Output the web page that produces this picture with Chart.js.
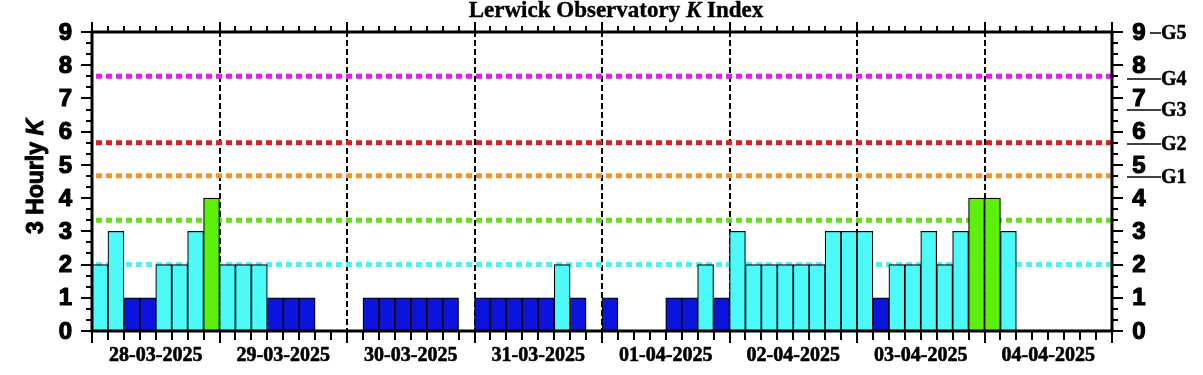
<!DOCTYPE html>
<html><head><meta charset="utf-8">
<script src="https://cdn.jsdelivr.net/npm/chart.js@4/dist/chart.umd.min.js"></script>
<style>html,body{margin:0;padding:0;background:#fff;overflow:hidden}#wrap{width:1203px;height:375px;position:relative}</style>
</head><body><div id="wrap"><canvas id="c" width="1203" height="375"></canvas></div>
<script>
// ---- data ----
const dayLabels = ['28-03-2025','29-03-2025','30-03-2025','31-03-2025','01-04-2025','02-04-2025','03-04-2025','04-04-2025'];
const kValues = [
  2,3,1,1,2,2,3,4,
  2,2,2,1,1,1,0,0,
  0,1,1,1,1,1,1,0,
  1,1,1,1,1,2,1,0,
  1,0,0,0,1,1,2,1,
  3,2,2,2,2,2,3,3,
  3,1,2,2,3,2,3,4,
  4,3,null,null,null,null,null,null
];
const slotsPerDay = 8;
const yTickValues = [0,1,2,3,4,5,6,7,8,9];
const thresholdLevels = [2, 3.33, 4.67, 5.67, 7.67];
const gLevels = [4.67, 5.67, 6.67, 7.67, 9];
const gLabels = ['G1','G2','G3','G4','G5'];
const titleParts = ['Lerwick Observatory ', 'K', ' Index'];
const yTitleParts = ['3 Hourly ', 'K'];

// ---- styles ----
const thresholdColors = ['#55EEEE', '#66DD22', '#F7941D', '#D42222', '#E020E8'];
function barColor(v){
  if (v == null) return 'rgba(0,0,0,0)';
  if (v <= 1) return '#0A14DC';
  if (v <= 3) return '#4DFAFA';
  if (v <= 4) return '#5CF00A';
  if (v <= 5) return '#F7941D';
  return '#D42222';
}

const nSlots = dayLabels.length * slotsPerDay;

const datasets = [{
  type: 'bar',
  data: kValues.map((v,i)=>({x:i+0.5, y:v})),
  backgroundColor: ctx => barColor(ctx.raw ? ctx.raw.y : null),
  borderColor: '#000',
  borderWidth: 1.2,
  barPercentage: 1,
  categoryPercentage: 1,
  order: 0
}];
thresholdLevels.forEach((lv, j) => {
  datasets.push({
    type: 'line',
    data: [{x:0, y:lv}, {x:nSlots, y:lv}],
    borderColor: thresholdColors[j],
    borderWidth: 5,
    borderDash: [6,4],
    borderDashOffset: 6,
    borderCapStyle: 'butt',
    pointRadius: 0,
    fill: false,
    order: 1
  });
});

function heavyText(ctx, t, x, y, sw){
  ctx.lineWidth = sw;
  ctx.lineJoin = 'round';
  ctx.strokeText(t, x, y);
  ctx.fillText(t, x, y);
}

const decor = {
  id: 'decor',
  beforeDatasetsDraw(chart){
    const {ctx, chartArea:a, scales:{x}} = chart;
    ctx.save();
    ctx.strokeStyle = '#000';
    ctx.lineWidth = 2;
    ctx.setLineDash([6,3]);
    for (let d = 1; d < dayLabels.length; d++){
      const px = Math.round(x.getPixelForValue(d*slotsPerDay));
      ctx.beginPath(); ctx.moveTo(px, a.top-10); ctx.lineTo(px, a.bottom+12); ctx.stroke();
    }
    ctx.restore();
  },
  afterDatasetsDraw(chart){
    const {ctx, chartArea:a, scales:{x,y}} = chart;
    ctx.save();
    ctx.strokeStyle = '#000';
    ctx.fillStyle = '#000';
    // frame
    ctx.lineWidth = 3;
    ctx.strokeRect(a.left, a.top, a.right-a.left, a.bottom-a.top);
    // x ticks
    ctx.lineWidth = 2;
    for (let i = 0; i <= nSlots; i++){
      const px = Math.round(x.getPixelForValue(i));
      const major = i % slotsPerDay === 0;
      ctx.beginPath(); ctx.moveTo(px, a.top); ctx.lineTo(px, a.top - (major?10:6)); ctx.stroke();
      ctx.beginPath(); ctx.moveTo(px, a.bottom); ctx.lineTo(px, a.bottom + (major?12:9)); ctx.stroke();
    }
    // y ticks
    for (let k = 0; k <= 27; k++){
      const py = Math.round(y.getPixelForValue(k/3));
      const major = k % 3 === 0;
      ctx.beginPath(); ctx.moveTo(a.left, py); ctx.lineTo(a.left - (major?11:6), py); ctx.stroke();
      ctx.beginPath(); ctx.moveTo(a.right, py); ctx.lineTo(a.right + (major?11:6), py); ctx.stroke();
    }
    // y labels
    ctx.font = 'bold 24px "Liberation Sans", Arial, sans-serif';
    ctx.textBaseline = 'middle';
    yTickValues.forEach(v => {
      const py = y.getPixelForValue(v) + 1;
      ctx.textAlign = 'right'; heavyText(ctx, String(v), 72, py, 1.2);
      ctx.textAlign = 'center'; heavyText(ctx, String(v), 1139, py, 1.2);
    });
    // G labels
    ctx.font = 'bold 20px "Liberation Serif", "Times New Roman", serif';
    ctx.textAlign = 'left';
    gLevels.forEach((lv, j) => {
      const py = Math.round(y.getPixelForValue(lv)) + (j===3?3:1);
      const x0 = lv === 9 ? 1150 : 1127;
      ctx.lineWidth = 1.5;
      ctx.beginPath(); ctx.moveTo(x0, py); ctx.lineTo(1161, py); ctx.stroke();
      heavyText(ctx, gLabels[j], 1161, py + 1, 0.5);
    });
    // day labels
    ctx.font = 'bold 20px "Liberation Serif", "Times New Roman", serif';
    ctx.textAlign = 'center';
    dayLabels.forEach((lab, d) => {
      heavyText(ctx, lab, x.getPixelForValue(d*slotsPerDay + slotsPerDay/2), 356, 0.6);
    });
    // title
    const fN = 'bold 23px "Liberation Serif", "Times New Roman", serif';
    const fI = 'italic bold 23px "Liberation Serif", "Times New Roman", serif';
    const fonts = [fN, fI, fN];
    let w = 0;
    titleParts.forEach((t,i)=>{ ctx.font = fonts[i]; w += ctx.measureText(t).width; });
    let tx = 616 - w/2;
    ctx.textAlign = 'left'; ctx.textBaseline = 'alphabetic';
    titleParts.forEach((t,i)=>{ ctx.font = fonts[i]; heavyText(ctx, t, tx, 17, 0.4); tx += ctx.measureText(t).width; });
    // y title
    ctx.translate(43, (a.top + a.bottom)/2 - 5);
    ctx.rotate(-Math.PI/2);
    const yf = ['bold 23px "Liberation Sans", Arial, sans-serif', 'italic bold 23px "Liberation Sans", Arial, sans-serif'];
    w = 0;
    yTitleParts.forEach((t,i)=>{ ctx.font = yf[i]; w += ctx.measureText(t).width; });
    tx = -w/2;
    yTitleParts.forEach((t,i)=>{ ctx.font = yf[i]; heavyText(ctx, t, tx, 0, 1.0); tx += ctx.measureText(t).width; });
    ctx.restore();
  }
};

new Chart(document.getElementById('c'), {
  data: { datasets },
  options: {
    responsive: false,
    animation: false,
    layout: { padding: { left: 92, right: 91, top: 32, bottom: 44 } },
    scales: {
      x: { type: 'linear', min: 0, max: nSlots, display: false, offset: false },
      y: { type: 'linear', min: 0, max: 9, display: false }
    },
    plugins: { legend: { display: false }, tooltip: { enabled: false }, title: { display: false } }
  },
  plugins: [decor]
});
</script>
</body></html>
